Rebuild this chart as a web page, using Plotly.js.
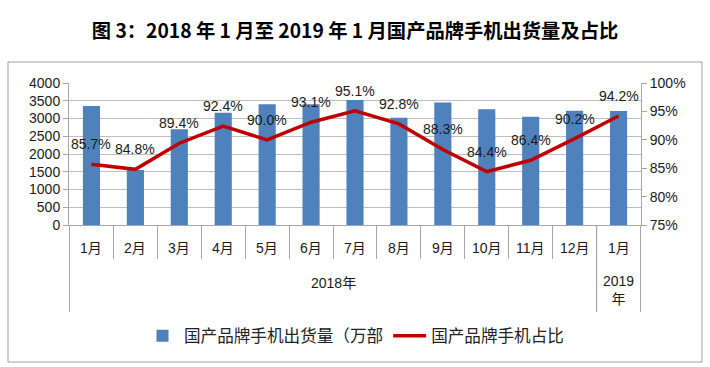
<!DOCTYPE html>
<html>
<head>
<meta charset="utf-8">
<script src="https://cdn.plot.ly/plotly-3.0.1.min.js"></script>
<style>
html,body{margin:0;padding:0;background:#fff;}
#chart{width:710px;height:367px;}
</style>
</head>
<body>
<div id="chart"></div>
<script>
// ---- data ----
const months = ['1月','2月','3月','4月','5月','6月','7月','8月','9月','10月','11月','12月','1月'];
const years = ['2018年','2018年','2018年','2018年','2018年','2018年','2018年','2018年','2018年','2018年','2018年','2018年','2019<br>年'];
const shipments = [3350, 1550, 2700, 3160, 3400, 3400, 3520, 3020, 3450, 3260, 3050, 3220, 3210];
const share = [85.7, 84.8, 89.4, 92.4, 90.0, 93.1, 95.1, 92.8, 88.3, 84.4, 86.4, 90.2, 94.2];
const seriesNames = ['国产品牌手机出货量（万部', '国产品牌手机占比'];
const titleText = '图 3：2018 年 1 月至 2019 年 1 月国产品牌手机出货量及占比';

// unique category ids (year + month)
const cats = months.map((m, i) => years[i] + '|' + m);

const FONT = 'Liberation Sans, Noto Sans CJK SC, sans-serif';
const CJK = 'Noto Sans CJK SC, Liberation Sans, sans-serif';
const gridC = '#BFBFBF';
const axisC = '#A6A6A6';

const traces = [
  {
    type: 'bar', x: cats, y: shipments, name: seriesNames[0],
    marker: {color: '#4F81BD'}, yaxis: 'y', hoverinfo: 'skip'
  },
  {
    type: 'scatter', mode: 'lines', x: cats, y: share, name: seriesNames[1],
    line: {color: '#C00000', width: 3.5}, yaxis: 'y2', hoverinfo: 'skip'
  }
];

// plot geometry helpers (paper units)
const plotH = 142;
const py = px => -px / plotH; // px below the x axis -> paper y

const annotations = [];
// data labels
share.forEach((v, i) => annotations.push({
  x: cats[i], y: v, xref: 'x', yref: 'y2', text: v.toFixed(1) + '%',
  showarrow: false, yshift: 20, font: {family: FONT, size: 14, color: '#1a1a1a'}
}));
// month labels
months.forEach((m, i) => annotations.push({
  x: cats[i], y: py(23), xref: 'x', yref: 'paper', text: m, showarrow: false,
  yanchor: 'middle', font: {family: FONT, size: 14, color: '#1a1a1a'}
}));
// year group labels + group separators
const groups = [];
years.forEach((y, i) => {
  if (!groups.length || groups[groups.length - 1].name !== y) groups.push({name: y, start: i, end: i});
  else groups[groups.length - 1].end = i;
});
const shapes = [];
groups.forEach(g => {
  const multiline = g.name.indexOf('<br>') >= 0;
  annotations.push({
    x: (g.start + g.end) / 2, y: multiline ? py(65) : py(58), xref: 'x', yref: 'paper',
    text: g.name, showarrow: false, yanchor: 'middle',
    font: {family: FONT, size: 14, color: '#1a1a1a'}
  });
  [g.start - 0.5, g.end + 0.5].forEach(b => shapes.push({
    type: 'line', xref: 'x', yref: 'paper', x0: b, x1: b, y0: 0, y1: py(87),
    line: {color: axisC, width: 1}
  }));
});
// outer frame
shapes.push({
  type: 'rect', xref: 'paper', yref: 'paper',
  x0: (8 - 69) / 572, x1: (702 - 69) / 572, y0: (225 - 62) / plotH, y1: py(137),
  line: {color: '#A0A0A0', width: 1}, fillcolor: 'rgba(0,0,0,0)', layer: 'below'
});

const layout = {
  width: 710, height: 367,
  margin: {l: 69, r: 69, t: 83, b: 142, autoexpand: false},
  paper_bgcolor: '#ffffff', plot_bgcolor: '#ffffff',
  font: {family: FONT, size: 14, color: '#1a1a1a'},
  title: {
    text: titleText, x: 0.5, xref: 'container', y: 1 - 31 / 367, yref: 'container',
    yanchor: 'middle', xanchor: 'center',
    font: {family: CJK, size: 19.3, weight: 'bold', color: '#000'}
  },
  bargap: 0.61,
  showlegend: true,
  legend: {
    orientation: 'h', x: 0.5, xanchor: 'center', y: py(111), yanchor: 'middle',
    font: {family: CJK, size: 16.6, color: '#222'}, itemwidth: 33,
    traceorder: 'normal', bgcolor: 'rgba(0,0,0,0)'
  },
  xaxis: {
    type: 'category', tickson: 'boundaries', ticks: 'outside', ticklen: 33,
    tickcolor: axisC, showticklabels: false, showgrid: false,
    showline: true, linecolor: axisC, zeroline: false, fixedrange: true
  },
  yaxis: {
    range: [0, 4000], dtick: 500, tick0: 0, showgrid: true, gridcolor: gridC,
    showline: true, linecolor: axisC, ticks: 'outside', ticklen: 5, tickcolor: axisC,
    zeroline: false, tickfont: {family: FONT, size: 14, color: '#1a1a1a'}, fixedrange: true
  },
  yaxis2: {
    range: [75, 100], dtick: 5, tick0: 75, overlaying: 'y', side: 'right',
    showgrid: false, showline: true, linecolor: axisC, ticks: 'outside', ticklen: 5,
    tickcolor: axisC, ticksuffix: '%', zeroline: false,
    tickfont: {family: FONT, size: 14, color: '#1a1a1a'}, fixedrange: true
  },
  annotations: annotations,
  shapes: shapes
};

Plotly.newPlot('chart', traces, layout, {staticPlot: true, displayModeBar: false});
</script>
</body>
</html>
